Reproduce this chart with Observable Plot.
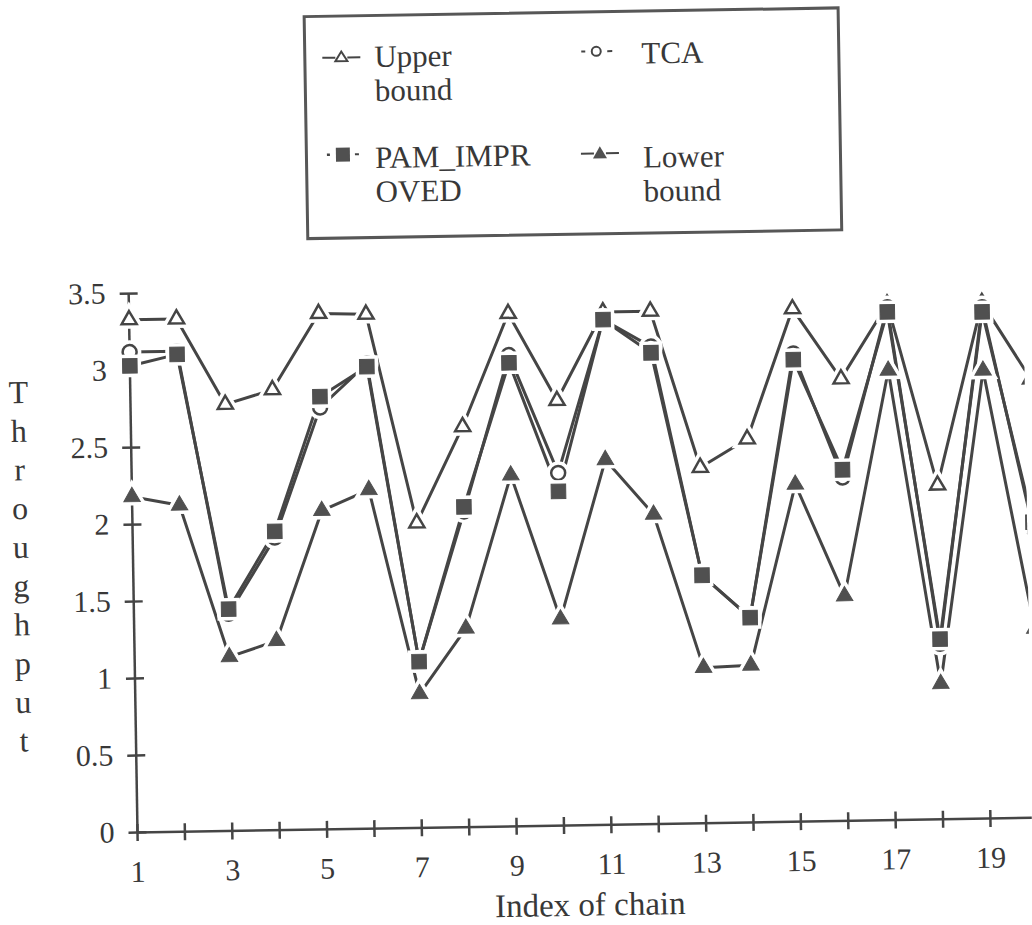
<!DOCTYPE html>
<html><head><meta charset="utf-8">
<script src="https://cdn.jsdelivr.net/npm/d3@7"></script>
<script src="https://cdn.jsdelivr.net/npm/@observablehq/plot@0.6"></script>
<style>
html,body{margin:0;padding:0;background:#fff;overflow:hidden;}
#page{position:relative;width:1032px;height:925px;transform-origin:137px 832px;transform:rotate(-0.94deg);font-family:"Liberation Serif","Times New Roman","DejaVu Serif",serif;color:#383838;}
#legend{position:absolute;left:316px;top:18px;width:537px;height:225px;box-sizing:border-box;border:3px solid #575757;}
.item{position:absolute;font-family:"Liberation Serif","Times New Roman","DejaVu Serif",serif;font-size:31px;line-height:34px;white-space:nowrap;}
.sym{position:absolute;width:40px;height:20px;}
#chart{position:absolute;left:0;top:250px;}
#chart text{font-family:"Liberation Serif","Times New Roman","DejaVu Serif",serif;}
</style></head>
<body><div id="page"><div id="legend"></div><div id="chart"></div></div>
<script>
// ---- data ----
const chainIndex = [1,2,3,4,5,6,7,8,9,10,11,12,13,14,15,16,17,18,19,20];
const upperBound = [3.33,3.33,2.77,2.86,3.35,3.34,1.98,2.60,3.33,2.76,3.33,3.33,2.31,2.49,3.33,2.87,3.35,2.17,3.35,2.85];
const tcaValues  = [3.12,3.12,1.41,1.90,2.74,3.02,1.08,2.05,3.06,2.29,3.28,3.10,1.61,1.33,3.04,2.23,3.33,1.14,3.32,1.88];
const pamValues  = [3.03,3.10,1.44,1.94,2.81,3.00,1.08,2.08,3.01,2.17,3.28,3.06,1.61,1.33,3.00,2.28,3.30,1.17,3.29,1.92];
const lowerBound = [2.18,2.12,1.13,1.23,2.07,2.20,0.87,1.29,2.28,1.34,2.37,2.01,1.01,1.02,2.19,1.46,2.92,0.88,2.91,1.23];
const seriesKeys = ["upper","tca","pam","lower"];
const legendLines = [["Upper","bound"],["TCA"],["PAM_IMPR","OVED"],["Lower","bound"]];
const yTickValues = [0,0.5,1,1.5,2,2.5,3,3.5];
const xTickLabelValues = [1,3,5,7,9,11,13,15,17,19];
const xTickMarkValues = [1,2,3,4,5,6,7,8,9,10,11,12,13,14,15,16,17,18,19,20];
const xTitle = "Index of chain";
const yTitle = "Throughput";

const ink = "#454545";
const serif = "'Liberation Serif', 'Times New Roman', 'DejaVu Serif', serif";
const rows = chainIndex.map((x,i)=>({x, upper: upperBound[i], tca: tcaValues[i], pam: pamValues[i], lower: lowerBound[i]}));

// ---- legend ----
const icons = {
  upper: `<line x1="1" y1="10" x2="14" y2="10" stroke="${ink}" stroke-width="2"/><line x1="26" y1="10" x2="39" y2="10" stroke="${ink}" stroke-width="2"/><path d="M20,4 L26,13.5 L14,13.5 Z" fill="white" stroke="${ink}" stroke-width="2"/>`,
  tca: `<line x1="5" y1="10" x2="9" y2="10" stroke="${ink}" stroke-width="2"/><line x1="31" y1="10" x2="36" y2="10" stroke="${ink}" stroke-width="2"/><circle cx="20" cy="10" r="4.5" fill="white" stroke="${ink}" stroke-width="2"/>`,
  pam: `<line x1="4" y1="10" x2="7" y2="10" stroke="${ink}" stroke-width="2.5"/><line x1="32" y1="10" x2="36" y2="10" stroke="${ink}" stroke-width="2"/><rect x="13" y="3" width="14" height="14" fill="#505050"/>`,
  lower: `<line x1="1" y1="10" x2="14" y2="10" stroke="${ink}" stroke-width="2"/><line x1="26" y1="10" x2="39" y2="10" stroke="${ink}" stroke-width="2"/><path d="M20,3 L27,15 L13,15 Z" fill="#505050"/>`
};
const legendPos = [
  {sx: 35, sy: 40, tx: 68, ty: 23},
  {sx: 290, sy: 38, tx: 335, ty: 24},
  {sx: 35, sy: 137, tx: 67, ty: 124},
  {sx: 292, sy: 140, tx: 335, ty: 128}
];
const legend = document.getElementById("legend");
seriesKeys.forEach((k,i)=>{
  const p = legendPos[i];
  const s = document.createElement("div");
  s.className = "sym";
  s.style.left = (p.sx-20)+"px"; s.style.top = (p.sy-10)+"px";
  s.innerHTML = `<svg width="40" height="20" viewBox="0 0 40 20">${icons[k]}</svg>`;
  legend.appendChild(s);
  const t = document.createElement("div");
  t.className = "item";
  t.style.left = p.tx+"px"; t.style.top = p.ty+"px";
  t.innerHTML = legendLines[i].join("<br>");
  legend.appendChild(t);
});

// ---- chart ----
const vTick = {draw(c, s){const r=Math.sqrt(s/Math.PI); c.moveTo(0,-r); c.lineTo(0,r);}};
const hTick = {draw(c, s){const r=Math.sqrt(s/Math.PI); c.moveTo(-r,0); c.lineTo(r,0);}};

const styleFor = {
  upper: {symbol:"triangle", r:5.6, fill:"white", stroke:ink, strokeWidth:2.5},
  tca:   {symbol:"circle", r:7, fill:"white", stroke:ink, strokeWidth:2.5},
  pam:   {symbol:"square", r:8.2, fill:"#505050", stroke:"#505050", strokeWidth:1},
  lower: {symbol:"triangle", r:6.1, fill:"#505050", stroke:"#505050", strokeWidth:1}
};

const marks = [
  Plot.ruleY([0], {stroke: ink, strokeWidth: 2.5}),
  Plot.ruleX([1], {stroke: ink, strokeWidth: 2.5}),
  Plot.dot(xTickMarkValues, {x: d=>d, y: 0, symbol: vTick, r: 8.5, stroke: ink, strokeWidth: 2.5}),
  Plot.dot(yTickValues, {x: 1, y: d=>d, symbol: hTick, r: 9, stroke: ink, strokeWidth: 2.5}),
  Plot.axisX(xTickLabelValues, {tickSize: 0, tickPadding: 28, fontSize: 30, fontFamily: serif, label: null, tickFormat: d=>String(d)}),
  Plot.axisY(yTickValues, {tickSize: 0, tickPadding: 23, fontSize: 30, fontFamily: serif, label: null, tickFormat: d=>String(d)}),
  ...seriesKeys.map(k => Plot.line(rows, {x: "x", y: k, stroke: ink, strokeWidth: 3})),
];
seriesKeys.forEach(k => {
  const st = styleFor[k];
  marks.push(Plot.dot(rows, {x:"x", y:k, symbol: st.symbol, r: st.r, fill:"white", stroke:"white", strokeWidth: st.strokeWidth + 7}));
  marks.push(Plot.dot(rows, {x:"x", y:k, ...st}));
});
marks.push(Plot.text([yTitle], {frameAnchor:"left", dx:-112, text: d=>d.split("").join("\n"), lineHeight: 1.21, fontSize: 32, fontFamily: serif, textAnchor:"middle", lineAnchor:"middle", fill: "#383838"}));
marks.push(Plot.text([xTitle], {frameAnchor:"bottom", dx: 4, dy: 80, fontSize: 33, fontFamily: serif, lineAnchor:"middle", fill: "#383838"}));

const chart = Plot.plot({
  width: 1032,
  height: 675,
  marginLeft: 137,
  marginRight: 0,
  marginTop: 43,
  marginBottom: 93,
  x: {domain: [1, 20], range: [137, 1037.4], label: null},
  y: {domain: [0, 3.5], label: null},
  style: {fontFamily: serif, fontSize: "30px", color: "#383838", background: "transparent", overflow: "hidden"},
  marks
});
document.getElementById("chart").appendChild(chart);
</script>
</body></html>
